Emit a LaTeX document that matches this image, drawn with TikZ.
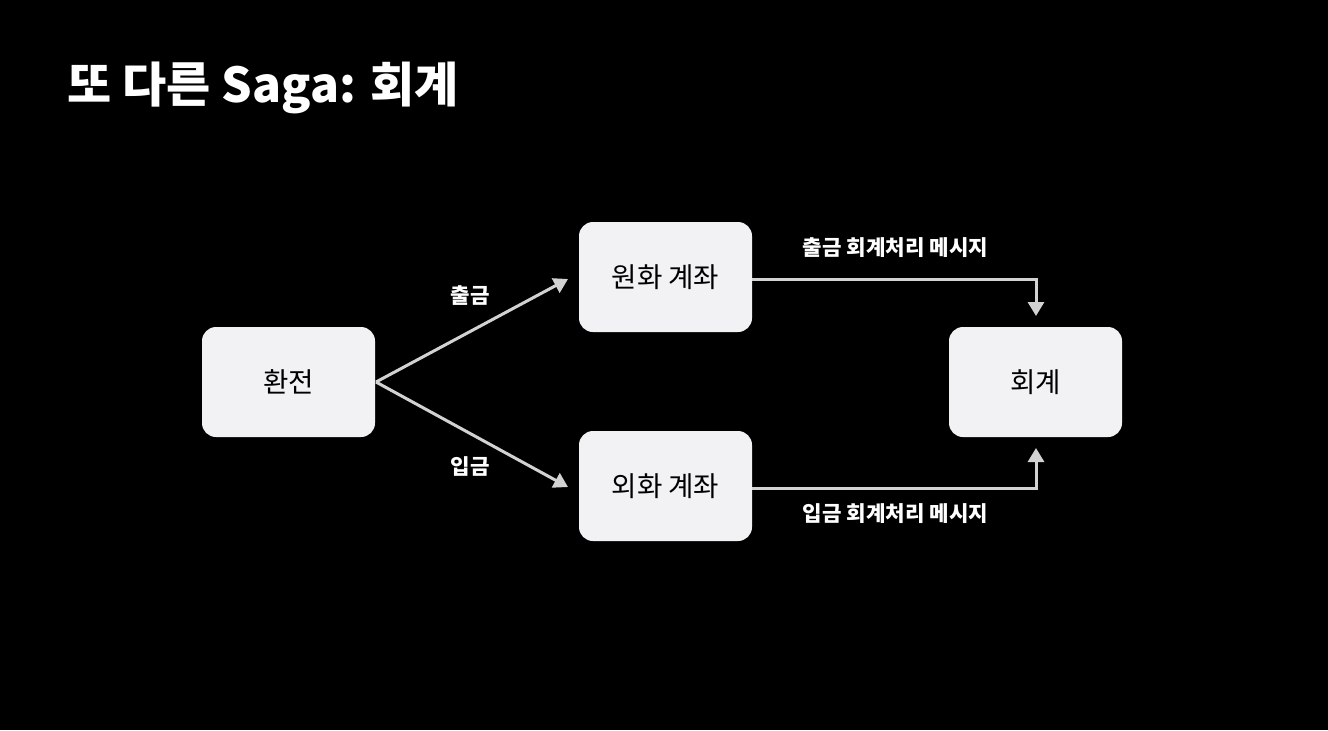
\documentclass[tikz,border=0pt]{standalone}
\usepackage{fontspec}
\setmainfont{Noto Sans CJK KR}
\usetikzlibrary{arrows.meta}
\definecolor{boxfill}{HTML}{F2F2F4}
\definecolor{linec}{HTML}{D2D2D2}
\tikzset{
  box/.style={draw=none, fill=boxfill, rounded corners=7pt, minimum width=86.5pt, minimum height=55pt, inner sep=0pt, font=\fontsize{13.8pt}{16pt}\selectfont, text=black},
  conn/.style={draw=linec, line width=1.5pt, -{Triangle[length=7pt,width=8pt]}},
  lbl/.style={text=white, font=\bfseries\fontsize{10.6pt}{12pt}\selectfont, inner sep=0pt}
}
\begin{document}
\begin{tikzpicture}[x=0.5pt,y=-0.5pt]
\fill[black] (0,0) rectangle (1328,730);
\useasboundingbox (0,0) rectangle (1328,730);
\node[anchor=west, text=white, font=\bfseries\fontsize{24pt}{28pt}\selectfont, inner sep=0pt] (title) at (67,88) {또 다른 Saga: 회계};
\node[box] (fx) at (288.5,382) {환전};
\node[box] (krw) at (665.5,277) {원화 계좌};
\node[box] (usd) at (665.5,486) {외화 계좌};
\node[box] (acc) at (1035.5,382) {회계};
\coordinate (fxo) at (376,382);
\coordinate (up) at (568,279);
\coordinate (dn) at (568,487);
\draw[conn] (fxo) -- (up);
\draw[conn] (fxo) -- (dn);
\coordinate (t1) at (1036,316);
\coordinate (t2) at (1036,448);
\draw[conn] (krw.east |- 0,279) -| (t1);
\draw[conn] (usd.east |- 0,488) -| (t2);
\node[lbl] (l1) at (470,296) {출금};
\node[lbl] (l2) at (470,466) {입금};
\node[lbl] (l3) at (895.5,248) {출금 회계처리 메시지};
\node[lbl] (l4) at (895.5,514) {입금 회계처리 메시지};
\end{tikzpicture}
\end{document}
